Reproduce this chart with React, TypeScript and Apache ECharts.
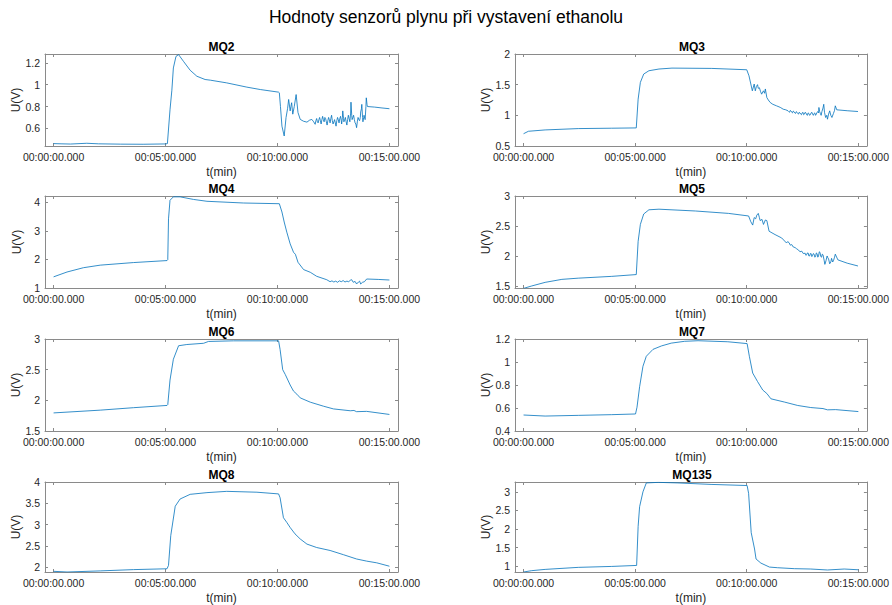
import React, { useEffect, useRef } from 'react';
import * as echarts from 'echarts';

const mainTitle = 'Hodnoty senzorů plynu při vystavení ethanolu';
const sensorNames = ['MQ2', 'MQ3', 'MQ4', 'MQ5', 'MQ6', 'MQ7', 'MQ8', 'MQ135'];
const xTickValues = [0, 300, 600, 900];
const xTickLabels = ['00:00:00.000', '00:05:00.000', '00:10:00.000', '00:15:00.000'];
const xAxisTitle = 't(min)';
const yAxisTitle = 'U(V)';
const yMins = [0.438, 0.5, 1, 1.466, 1.5, 0.4, 1.884, 0.84];
const yMaxs = [1.282, 2, 4.22, 3, 3, 1.2, 4, 3.265];
const yTicks = [
  [0.6, 0.8, 1, 1.2],
  [0.5, 1, 1.5, 2],
  [1, 2, 3, 4],
  [1.5, 2, 2.5, 3],
  [1.5, 2, 2.5, 3],
  [0.4, 0.6, 0.8, 1, 1.2],
  [2, 2.5, 3, 3.5, 4],
  [1, 1.5, 2, 2.5, 3],
];

// [time in seconds, voltage]
const mq2Data: [number, number][] = [
  [0, 0.46], [20, 0.458], [45, 0.456], [89, 0.463], [120, 0.458], [180, 0.455], [240, 0.454], [300, 0.457],
  [305, 0.46], [312, 0.77], [317, 0.95], [321, 1.154], [328, 1.26], [335, 1.276], [348, 1.215], [366, 1.133],
  [384, 1.078], [406, 1.048], [420, 1.042], [464, 1.017], [518, 0.978], [554, 0.956], [603, 0.932], [605, 0.926],
  [608, 0.8], [612, 0.62], [618, 0.53], [623, 0.7], [627, 0.78], [630, 0.865], [634, 0.76], [636, 0.8], [638, 0.835],
  [641, 0.73], [645, 0.8], [650, 0.91], [655, 0.745], [661, 0.682], [670, 0.665], [679, 0.657], [686, 0.675],
  [692, 0.682], [697, 0.66], [701, 0.637], [703, 0.67], [705, 0.69], [707, 0.66], [709, 0.65], [711, 0.68],
  [713, 0.7], [715, 0.67], [717, 0.64], [719, 0.68], [721, 0.71], [723, 0.68], [725, 0.66], [727, 0.7],
  [729, 0.69], [731, 0.66], [733, 0.63], [735, 0.67], [737, 0.7], [739, 0.68], [741, 0.65], [743, 0.69],
  [745, 0.72], [747, 0.67], [749, 0.64], [751, 0.66], [753, 0.68], [755, 0.65], [757, 0.62], [759, 0.67],
  [761, 0.7], [763, 0.68], [765, 0.65], [767, 0.69], [769, 0.71], [771, 0.67], [772, 0.64], [774, 0.7],
  [775, 0.76], [777, 0.69], [778, 0.66], [780, 0.68], [782, 0.7], [784, 0.66], [786, 0.63], [788, 0.68],
  [790, 0.72], [792, 0.69], [794, 0.66], [796, 0.74], [797, 0.84], [799, 0.72], [800, 0.68], [802, 0.7],
  [804, 0.72], [806, 0.68], [808, 0.65], [810, 0.64], [812, 0.606], [814, 0.66], [816, 0.7], [818, 0.68],
  [820, 0.67], [822, 0.7], [823, 0.75], [825, 0.78], [826, 0.82], [828, 0.7], [829, 0.66], [831, 0.7],
  [832, 0.72], [834, 0.69], [835, 0.68], [837, 0.8], [838, 0.88], [840, 0.82], [841, 0.8], [860, 0.795],
  [880, 0.787], [900, 0.78],
];
const mq3Data: [number, number][] = [
  [0, 0.7], [13, 0.74], [58, 0.762], [147, 0.784], [237, 0.79], [303, 0.795], [308, 1.264], [314, 1.537],
  [323, 1.673], [337, 1.727], [364, 1.755], [399, 1.77], [506, 1.765], [600, 1.743], [606, 1.645], [615, 1.4],
  [620, 1.51], [623, 1.4], [626, 1.47], [629, 1.5], [631, 1.44], [634, 1.45], [637, 1.39], [640, 1.345],
  [643, 1.38], [645, 1.4], [648, 1.36], [650, 1.43], [654, 1.29], [658, 1.25], [663, 1.21], [670, 1.18],
  [680, 1.155], [690, 1.13], [698, 1.1], [705, 1.09], [711, 1.073], [713, 1.06], [715, 1.05], [717, 1.08],
  [719, 1.07], [721, 1.05], [723, 1.04], [725, 1.07], [727, 1.06], [729, 1.04], [731, 1.03], [733, 1.06],
  [735, 1.05], [737, 1.03], [739, 1.02], [741, 1.05], [743, 1.04], [745, 1.02], [747, 1.01], [749, 1.04],
  [751, 1.05], [753, 1.01], [755, 1.02], [757, 1.05], [759, 1.04], [761, 1.01], [763, 1.0], [765, 1.04],
  [767, 1.03], [769, 1.0], [771, 1.01], [773, 1.04], [775, 1.05], [777, 1.02], [779, 1.0], [781, 1.03],
  [783, 1.04], [785, 1.0], [787, 1.02], [789, 1.05], [791, 1.06], [793, 1.04], [794, 1.128], [796, 1.06],
  [798, 1.03], [800, 1.0], [802, 1.06], [805, 1.12], [807, 1.18], [809, 1.05], [812, 0.965], [815, 1.0],
  [817, 0.937], [820, 1.02], [823, 1.073], [826, 1.0], [829, 0.965], [833, 1.03], [836, 1.08], [838, 1.155],
  [842, 1.09], [870, 1.075], [899, 1.062],
];
const mq4Data: [number, number][] = [
  [0, 1.39], [36, 1.56], [80, 1.71], [125, 1.8], [214, 1.89], [304, 1.96], [306, 1.99], [308, 3.42],
  [312, 4.07], [321, 4.19], [339, 4.19], [375, 4.1], [411, 4.035], [509, 3.975], [605, 3.95], [612, 3.66],
  [618, 3.31], [625, 2.955], [634, 2.546], [643, 2.25], [648, 2.18], [655, 1.9], [670, 1.645], [688, 1.55],
  [705, 1.41], [732, 1.29], [741, 1.22], [746, 1.25], [751, 1.21], [756, 1.24], [761, 1.2], [766, 1.25],
  [771, 1.22], [776, 1.26], [781, 1.21], [786, 1.24], [791, 1.22], [795, 1.27], [799, 1.29], [803, 1.2],
  [808, 1.23], [812, 1.14], [817, 1.21], [820, 1.24], [823, 1.14], [828, 1.2], [833, 1.22], [839, 1.315],
  [870, 1.3], [900, 1.28],
];
const mq5Data: [number, number][] = [
  [0, 1.46], [22, 1.5], [58, 1.56], [103, 1.61], [147, 1.63], [237, 1.66], [303, 1.69], [308, 2.244],
  [314, 2.526], [323, 2.7], [337, 2.77], [364, 2.78], [462, 2.75], [551, 2.71], [605, 2.667], [611, 2.57],
  [616, 2.515], [620, 2.64], [624, 2.62], [627, 2.68], [631, 2.71], [634, 2.64], [636, 2.59], [641, 2.61],
  [645, 2.526], [650, 2.6], [654, 2.59], [660, 2.413], [676, 2.357], [694, 2.3], [707, 2.216], [710, 2.24],
  [714, 2.22], [717, 2.18], [721, 2.19], [725, 2.15], [730, 2.14], [734, 2.12], [739, 2.1], [743, 2.07],
  [748, 2.08], [752, 2.04], [757, 2.046], [759, 2.01], [761, 2.02], [763, 2.05], [765, 2.05], [767, 2.0],
  [769, 2.0], [771, 2.04], [773, 2.04], [775, 1.99], [777, 2.01], [779, 2.04], [781, 2.03], [783, 1.98],
  [785, 1.99], [787, 2.05], [789, 2.04], [791, 1.98], [793, 2.0], [795, 2.07], [797, 2.06], [799, 1.99],
  [801, 1.98], [803, 2.03], [805, 2.02], [808, 1.93], [810, 1.86], [813, 1.92], [816, 2.0], [818, 1.97],
  [820, 1.95], [823, 1.87], [826, 1.9], [828, 1.96], [831, 1.9], [833, 1.92], [836, 1.98], [838, 2.03],
  [845, 1.935], [870, 1.88], [899, 1.833],
];
const mq6Data: [number, number][] = [
  [0, 1.795], [125, 1.84], [214, 1.88], [304, 1.917], [306, 1.93], [312, 2.33], [321, 2.67], [335, 2.89],
  [357, 2.91], [402, 2.93], [415, 2.96], [482, 2.97], [603, 2.97], [607, 2.83], [614, 2.5], [621, 2.42],
  [634, 2.25], [643, 2.15], [652, 2.1], [661, 2.04], [688, 1.97], [723, 1.905], [750, 1.86], [795, 1.83],
  [805, 1.835], [812, 1.815], [839, 1.82], [900, 1.77],
];
const mq7Data: [number, number][] = [
  [0, 0.539], [58, 0.53], [147, 0.536], [237, 0.542], [301, 0.548], [305, 0.607], [312, 0.785], [321, 0.963],
  [330, 1.05], [348, 1.11], [371, 1.14], [397, 1.164], [433, 1.18], [469, 1.185], [549, 1.176], [601, 1.16],
  [607, 1.05], [616, 0.904], [629, 0.83], [643, 0.756], [654, 0.726], [665, 0.68], [701, 0.652], [737, 0.622],
  [772, 0.604], [805, 0.595], [817, 0.584], [839, 0.586], [900, 0.569],
];
const mq8Data: [number, number][] = [
  [0, 1.9], [36, 1.884], [125, 1.91], [214, 1.94], [304, 1.96], [308, 2.04], [314, 2.74], [326, 3.43],
  [339, 3.6], [366, 3.71], [411, 3.75], [464, 3.78], [545, 3.76], [603, 3.72], [607, 3.63], [616, 3.16],
  [625, 3.05], [634, 2.93], [647, 2.78], [661, 2.66], [679, 2.54], [705, 2.46], [741, 2.39], [777, 2.29],
  [812, 2.19], [839, 2.14], [866, 2.1], [900, 2.02],
];
const mq135Data: [number, number][] = [
  [0, 0.84], [22, 0.876], [58, 0.91], [147, 0.965], [237, 0.99], [304, 1.017], [308, 2.07], [312, 2.6],
  [321, 3.0], [330, 3.24], [362, 3.255], [415, 3.24], [504, 3.2], [601, 3.17], [605, 2.96], [612, 1.9],
  [621, 1.46], [625, 1.19], [638, 1.08], [661, 0.973], [683, 0.955], [728, 0.93], [772, 0.92], [817, 0.894],
  [862, 0.92], [900, 0.9],
];
const allData = [mq2Data, mq3Data, mq4Data, mq5Data, mq6Data, mq7Data, mq8Data, mq135Data];

const FONT = "'Liberation Sans', Arial, Helvetica, sans-serif";
const TEXT = '#262626';
const BOX = '#8a8a8a';
const LINE = '#0072BD';
const colLeft = [45, 515];
const colWidth = [353, 354];
const rowTop = [54, 196, 339, 482];
const rowHeight = [92, 92, 92, 91];
const xMin = -23;
const xMax = 923;

function buildOption() {
  const grids: any[] = [];
  const xAxes: any[] = [];
  const xAxesTop: any[] = [];
  const yAxes: any[] = [];
  const yAxesRight: any[] = [];
  const titles: any[] = [
    {
      text: mainTitle,
      left: 446,
      top: 8,
      padding: 0,
      textAlign: 'center',
      textStyle: { fontFamily: FONT, fontSize: 17.5, fontWeight: 'normal', color: '#000' },
    },
  ];
  const series: any[] = [];
  const tickStyle = { color: BOX, width: 1 };

  sensorNames.forEach((name, i) => {
    const col = i % 2;
    const row = Math.floor(i / 2);
    const left = colLeft[col];
    const width = colWidth[col];
    const top = rowTop[row];
    const height = rowHeight[row];
    grids.push({ left, top, width, height, containLabel: false });
    titles.push({
      text: name,
      left: left + width / 2,
      top: top - 13,
      padding: 0,
      textAlign: 'center',
      textStyle: { fontFamily: FONT, fontSize: 12, fontWeight: 'bold', color: '#000' },
    });
    xAxes.push({
      type: 'value',
      gridIndex: i,
      min: xMin,
      max: xMax,
      position: 'bottom',
      axisLine: { show: true, onZero: false, lineStyle: tickStyle },
      axisTick: { show: true, inside: true, length: 3, customValues: xTickValues, lineStyle: tickStyle },
      axisLabel: {
        customValues: xTickValues,
        formatter: (v: number) => {
          const k = xTickValues.indexOf(v);
          return k >= 0 ? xTickLabels[k] : '';
        },
        fontFamily: FONT,
        fontSize: 10.5,
        color: TEXT,
        margin: 5,
      },
      splitLine: { show: false },
      name: xAxisTitle,
      nameLocation: 'middle',
      nameGap: 20,
      nameTextStyle: { fontFamily: FONT, fontSize: 12, color: TEXT },
    });
    xAxesTop.push({
      type: 'value',
      gridIndex: i,
      min: xMin,
      max: xMax,
      position: 'top',
      axisLine: { show: true, onZero: false, lineStyle: tickStyle },
      axisTick: { show: true, inside: true, length: 3, customValues: xTickValues, lineStyle: tickStyle },
      axisLabel: { show: false },
      splitLine: { show: false },
    });
    yAxes.push({
      type: 'value',
      gridIndex: i,
      min: yMins[i],
      max: yMaxs[i],
      position: 'left',
      axisLine: { show: true, onZero: false, lineStyle: tickStyle },
      axisTick: { show: true, inside: true, length: 3, customValues: yTicks[i], lineStyle: tickStyle },
      axisLabel: { customValues: yTicks[i], fontFamily: FONT, fontSize: 10.5, color: TEXT, margin: 5 },
      splitLine: { show: false },
      name: yAxisTitle,
      nameLocation: 'middle',
      nameGap: col === 0 ? 22 : 21,
      nameTextStyle: { fontFamily: FONT, fontSize: 12, color: TEXT },
    });
    yAxesRight.push({
      type: 'value',
      gridIndex: i,
      min: yMins[i],
      max: yMaxs[i],
      position: 'right',
      axisLine: { show: true, onZero: false, lineStyle: tickStyle },
      axisTick: { show: true, inside: true, length: 3, customValues: yTicks[i], lineStyle: tickStyle },
      axisLabel: { show: false },
      splitLine: { show: false },
    });
    series.push({
      type: 'line',
      name,
      xAxisIndex: i,
      yAxisIndex: i,
      data: allData[i],
      showSymbol: false,
      symbol: 'none',
      silent: true,
      lineStyle: { color: LINE, width: 0.8 },
    });
  });

  return {
    animation: false,
    backgroundColor: '#fff',
    title: titles,
    grid: grids,
    xAxis: [...xAxes, ...xAxesTop],
    yAxis: [...yAxes, ...yAxesRight],
    series,
  };
}

export default function App() {
  const ref = useRef<HTMLDivElement>(null);
  useEffect(() => {
    if (!ref.current) return;
    const chart = echarts.init(ref.current, undefined, { renderer: 'svg' });
    chart.setOption(buildOption() as any);
    return () => chart.dispose();
  }, []);
  return (
    <div
      ref={ref}
      style={{ position: 'fixed', left: 0, top: 0, width: 892, height: 605, background: '#fff' }}
    />
  );
}
